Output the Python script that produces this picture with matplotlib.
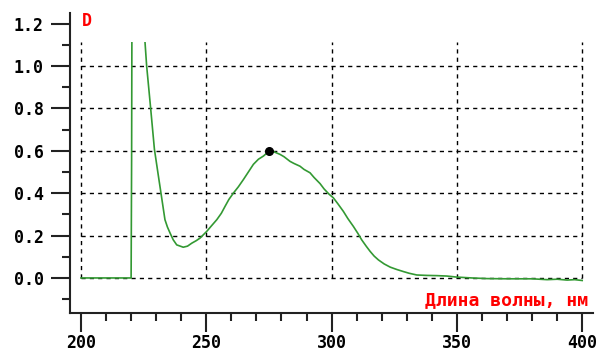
import numpy as np
import matplotlib
matplotlib.use("Agg")
import matplotlib.pyplot as plt
from matplotlib.ticker import MultipleLocator, FormatStrFormatter
from matplotlib.patches import Rectangle

# spectrum
wavelength = [200, 220, 220.2, 220.4, 221, 222, 224, 225.5, 226.2, 227.8, 229.3,
              230.9, 232.3, 233.5, 234.5, 235.5, 236.8, 238.2, 240.8, 242.5, 244.2,
              246, 247.5, 250.2, 252, 254.2, 256, 257.5, 259, 260.8, 262.8, 264.8,
              266.8, 268.8, 270.8, 272.8, 275.2, 277, 279.4, 281, 283.4, 285,
              287.4, 289, 291.4, 293, 295.4, 297, 299, 300.7, 302.5, 304.7, 306.5,
              308.7, 310.5, 312, 313.8, 315.4, 317, 318.7, 321, 323.4, 326, 328.7,
              331, 334, 338, 342, 346, 350, 356, 362, 370, 380, 386, 390, 394,
              397, 400]
absorb = [0, 0, 0.56, 1.6, 2.4, 2.8, 2.0, 1.12, 1.0, 0.80, 0.607,
          0.48, 0.37, 0.275, 0.24, 0.213, 0.18, 0.156, 0.145, 0.15, 0.164,
          0.176, 0.188, 0.22, 0.245, 0.275, 0.305, 0.338, 0.37, 0.40, 0.43, 0.464,
          0.50, 0.536, 0.56, 0.575, 0.60, 0.595, 0.583, 0.572, 0.55, 0.54,
          0.527, 0.512, 0.496, 0.474, 0.445, 0.42, 0.395, 0.378, 0.35, 0.314, 0.28,
          0.243, 0.21, 0.18, 0.15, 0.125, 0.103, 0.085, 0.066, 0.051, 0.04, 0.03,
          0.022, 0.014, 0.012, 0.011, 0.009, 0.004, 0.0, -0.003, -0.004, -0.004,
          -0.008, -0.006, -0.01, -0.008, -0.012]

peak_wl = [275]
peak_d = [0.60]

grid_x = [200, 250, 300, 350, 400]
grid_y = [0.0, 0.2, 0.4, 0.6, 0.8, 1.0]
top_cut = 1.115

fig = plt.figure(figsize=(5.98, 3.54), dpi=100)
ax = fig.add_axes([0.117, 0.116, 0.875, 0.848])
ax.set_xlim(195.6, 404.4)
ax.set_ylim(-0.165, 1.251)

# dashed grid only over the data window
ax.hlines(grid_y, 200, 400, colors='black', linestyles=(0, (3, 3)), linewidth=1)
ax.vlines(grid_x, 0, top_cut, colors='black', linestyles=(0, (3, 3)), linewidth=1)

line, = ax.plot(wavelength, absorb, color='#339933', linewidth=1.2)
clip = Rectangle((195, -0.3), 215, top_cut + 0.3, transform=ax.transData)
line.set_clip_path(clip)

ax.plot(peak_wl, peak_d, 'o', color='black', markersize=5.5)

for s in ['top', 'right']:
    ax.spines[s].set_visible(False)
for s in ['left', 'bottom']:
    ax.spines[s].set_linewidth(1.5)
    ax.spines[s].set_color('#222222')

ax.xaxis.set_major_locator(MultipleLocator(50))
ax.xaxis.set_minor_locator(MultipleLocator(10))
ax.yaxis.set_major_locator(MultipleLocator(0.2))
ax.yaxis.set_minor_locator(MultipleLocator(0.1))
ax.yaxis.set_major_formatter(FormatStrFormatter('%.1f'))

ax.tick_params(which='major', direction='out', length=14, width=1.5, color='#222222')
ax.tick_params(which='minor', direction='out', length=6, width=1.5, color='#222222')
ax.tick_params(axis='y', which='major', pad=5)
ax.tick_params(axis='x', which='major', pad=1)

for lab in ax.get_xticklabels() + ax.get_yticklabels():
    lab.set_fontfamily('DejaVu Sans Mono')
    lab.set_fontweight('bold')
    lab.set_fontsize(12)

ax.text(200.5, 1.21, 'D', color='red', fontweight='bold', fontsize=12,
        family='DejaVu Sans Mono', ha='left', va='center')
ax.text(402.5, -0.104, 'Длина волны, нм', color='red', fontweight='bold', fontsize=13,
        family='DejaVu Sans Mono', ha='right', va='center')

fig.savefig('out.png', dpi=100)
